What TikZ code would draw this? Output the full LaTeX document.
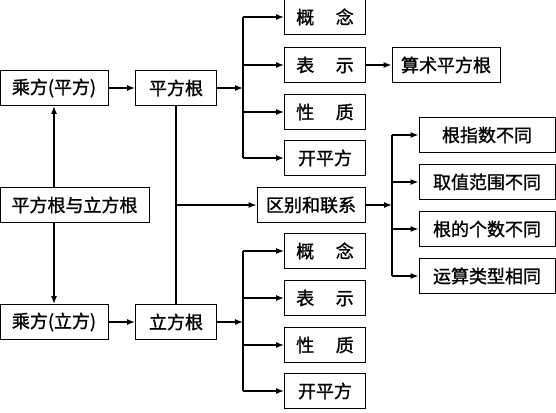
\documentclass[tikz,border=0pt]{standalone}
\usepackage{fontspec}
\newfontfamily\cjk{Noto Sans CJK SC}[FakeBold=1.2]
\usetikzlibrary{arrows.meta}
\begin{document}
\begin{tikzpicture}[x=1pt, y=-1pt, >={Latex[length=8pt,width=6pt]},
	box/.style={draw, line width=0.8pt, minimum height=35pt, inner sep=1pt, font=\cjk\fontsize{18}{20}\selectfont},
	conn/.style={line width=1.4pt},
	bus/.style={line width=2pt}]
	
	\useasboundingbox (0,0) rectangle (556,412);
	
	% linke Spalte
	\node[box, minimum width=108pt] (sq) at (54,88) {乘方(平方)};
	\node[box, minimum width=149pt] (main) at (74.5,205) {平方根与立方根};
	\node[box, minimum width=108pt] (cu) at (54,322) {乘方(立方)};
	
	% mittlere Spalte
	\node[box, minimum width=81pt] (sqrt) at (176,88) {平方根};
	\node[box, minimum width=108pt] (rel) at (311,205) {区别和联系};
	\node[box, minimum width=81pt] (cbrt) at (176,322) {立方根};
	
	% Quadratwurzel
	\node[box, minimum width=81pt] (sdef) at (325,17) {概\hspace{1.2em}念};
	\node[box, minimum width=81pt] (snot) at (325,65) {表\hspace{1.2em}示};
	\node[box, minimum width=81pt] (sprop) at (325,112) {性\hspace{1.2em}质};
	\node[box, minimum width=81pt] (sop) at (325,158) {开平方};
	\node[box, minimum width=108pt] (arith) at (446,65) {算术平方根};
	
	% Kubikwurzel
	\node[box, minimum width=81pt] (cdef) at (325,251) {概\hspace{1.2em}念};
	\node[box, minimum width=81pt] (cnot) at (325,298) {表\hspace{1.2em}示};
	\node[box, minimum width=81pt] (cprop) at (325,345) {性\hspace{1.2em}质};
	\node[box, minimum width=81pt] (cop) at (325,391) {开平方};
	
	% Unterschiede
	\node[box, minimum width=136pt] (d1) at (487,135) {根指数不同};
	\node[box, minimum width=136pt] (d2) at (487,182) {取值范围不同};
	\node[box, minimum width=136pt] (d3) at (487,229) {根的个数不同};
	\node[box, minimum width=136pt] (d4) at (487,276) {运算类型相同};
	
	% Verzweigungen
	\coordinate (b1) at (243,88);
	\coordinate (b2) at (243,322);
	\coordinate (b3) at (392,205);
	
	\draw[conn, ->] (sq |- main.north) -- (sq);
	\draw[conn, ->] (cu |- main.south) -- (cu);
	\draw[conn, ->] (sq) -- (sqrt);
	\draw[conn, ->] (cu) -- (cbrt);
	\draw[conn] (sqrt) -- (cbrt);
	\draw[conn, ->] (sqrt |- rel) -- (rel);
	\draw[conn, ->] (snot) -- (arith);
	
	\draw[conn, ->] (sqrt) -- (b1);
	\draw[bus] (b1 |- sdef) -- (b1 |- sop);
	\foreach \n in {sdef, snot, sprop, sop}
		\draw[conn, ->] (b1 |- \n) -- (\n);
	
	\draw[conn, ->] (cbrt) -- (b2);
	\draw[bus] (b2 |- cdef) -- (b2 |- cop);
	\foreach \n in {cdef, cnot, cprop, cop}
		\draw[conn, ->] (b2 |- \n) -- (\n);
	
	\draw[conn, ->] (rel) -- (b3);
	\draw[bus] (b3 |- d1) -- (b3 |- d4);
	\foreach \n in {d1, d2, d3, d4}
		\draw[conn, ->] (b3 |- \n) -- (\n);
	
\end{tikzpicture}
\end{document}
